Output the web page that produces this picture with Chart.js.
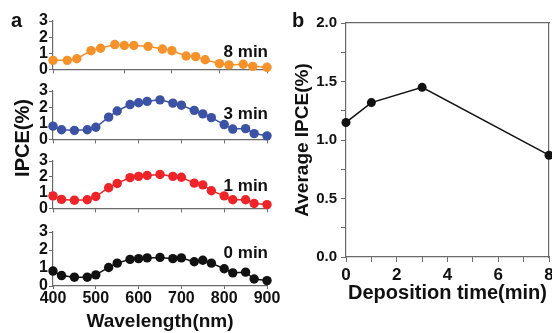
<!DOCTYPE html>
<html><head><meta charset="utf-8">
<script src="https://cdn.jsdelivr.net/npm/chart.js@4/dist/chart.umd.min.js"></script>
<style>
html,body{margin:0;padding:0;background:#fff;width:552px;height:333px;overflow:hidden;position:relative;font-family:'Liberation Sans',Arial,sans-serif;color:#111}
canvas{position:absolute}
.t{position:absolute;white-space:nowrap;font-weight:bold;line-height:1}
</style></head><body>
<canvas id="c8" width="287" height="71" style="left:0;top:9px"></canvas>
<canvas id="c3" width="287" height="71" style="left:0;top:79px"></canvas>
<canvas id="c1" width="287" height="70" style="left:0;top:149px"></canvas>
<canvas id="c0" width="287" height="113" style="left:0;top:220px"></canvas>
<canvas id="cb" width="280" height="333" style="left:280px;top:0"></canvas>
<div class="t" style="left:11px;top:10px;font-size:20px">a</div>
<div class="t" style="left:292px;top:10px;font-size:20px">b</div>
<div class="t" style="left:208px;top:43px;width:60px;text-align:right;font-size:17px">8 min</div>
<div class="t" style="left:208px;top:105px;width:60px;text-align:right;font-size:17px">3 min</div>
<div class="t" style="left:208px;top:177px;width:60px;text-align:right;font-size:17px">1 min</div>
<div class="t" style="left:208px;top:244px;width:60px;text-align:right;font-size:17px">0 min</div>
<div class="t" style="left:22px;top:138px;font-size:20px;transform:translate(-50%,-50%) rotate(-90deg)">IPCE(%)</div>
<script>
// Panel a data
const wavelengths = [400,420,450,480,500,530,550,580,600,620,650,680,700,730,750,770,800,820,850,870,900];
const wavelengths8min = [450,480,500,530,550,580,600,620,650,680,700,730,750,770,800,820,850,870,900];
const ipce8min = [0.56,0.56,0.66,1.16,1.31,1.54,1.48,1.48,1.43,1.26,1.16,0.83,0.79,0.60,0.36,0.28,0.32,0.19,0.13];
const ipce3min = [0.82,0.60,0.56,0.60,0.75,1.38,1.76,2.16,2.27,2.36,2.45,2.25,2.12,1.80,1.58,1.35,0.92,0.64,0.67,0.36,0.22];
const ipce1min = [0.79,0.57,0.52,0.55,0.75,1.31,1.58,1.95,2.03,2.08,2.15,2.03,1.97,1.60,1.49,1.12,0.79,0.55,0.55,0.31,0.24];
const ipce0min = [0.83,0.58,0.49,0.49,0.62,1.03,1.27,1.48,1.52,1.56,1.59,1.52,1.56,1.35,1.43,1.27,0.96,0.73,0.77,0.39,0.30];
const yTicksA = [0,1,2,3];
// Panel b data
const depositionTimes = [0,1,3,8];
const averageIPCE = [1.15,1.32,1.45,0.87];

Chart.defaults.font.family = "'Liberation Sans', Arial, sans-serif";
Chart.defaults.font.weight = 'bold';
Chart.defaults.color = '#111';
const AX = '#6a6a6a';

function sub(id, xs, ys, color, xmin, bottom) {
  new Chart(document.getElementById(id), {
    type: 'line',
    data: { datasets: [{
      data: xs.map((x, i) => ({x, y: ys[i]})),
      borderColor: color, backgroundColor: color, borderWidth: 1.5,
      pointRadius: 4.7, pointBackgroundColor: color, pointBorderWidth: 0,
      clip: false, tension: 0
    }]},
    options: {
      responsive: false, animation: false,
      layout: { padding: { top: 12, right: 20, left: 0, bottom: 0 } },
      plugins: { legend: { display: false }, tooltip: { enabled: false } },
      scales: {
        x: {
          type: 'linear', min: xmin, max: 900,
          ticks: { stepSize: 100, font: { size: 16 }, padding: 0, maxRotation: 0, autoSkip: false,
                   callback: v => bottom ? String(v) : '' },
          grid: { drawOnChartArea: false, tickLength: bottom ? 3 : 4, color: AX },
          border: { color: AX, width: 1.2 },
          title: { display: bottom, text: 'Wavelength(nm)', font: { size: 19 }, padding: { top: 0, bottom: 0 } },
          afterFit: s => { s.height = bottom ? 47 : 5; }
        },
        y: {
          min: 0, max: 3,
          afterBuildTicks: s => { s.ticks = yTicksA.map(v => ({value: v})); },
          ticks: { font: { size: 16 }, padding: 1, autoSkip: false },
          grid: { drawOnChartArea: false, tickLength: 4, color: AX },
          border: { color: AX, width: 1.2 },
          afterFit: s => { s.width = 53; }
        }
      }
    }
  });
}
sub('c8', wavelengths8min, ipce8min, '#F5922A', 450, false);
sub('c3', wavelengths, ipce3min, '#3B52A5', 400, false);
sub('c1', wavelengths, ipce1min, '#EE2428', 400, false);
sub('c0', wavelengths, ipce0min, '#111111', 400, true);

new Chart(document.getElementById('cb'), {
  type: 'line',
  data: { datasets: [{
    data: depositionTimes.map((x, i) => ({x, y: averageIPCE[i]})),
    borderColor: '#111', backgroundColor: '#111', borderWidth: 1.5,
    pointRadius: 4.5, pointBackgroundColor: '#111', pointBorderWidth: 0,
    clip: false, tension: 0
  }]},
  options: {
    responsive: false, animation: false,
    layout: { padding: { top: 23, right: 11, left: 0, bottom: 0 } },
    plugins: { legend: { display: false }, tooltip: { enabled: false } },
    scales: {
      x: {
        type: 'linear', min: 0, max: 8,
        ticks: { stepSize: 1, font: { size: 17 }, padding: 3, maxRotation: 0, autoSkip: false,
                 callback: v => (v % 2 === 0 ? String(v) : '') },
        grid: { drawOnChartArea: false, tickLength: 5, color: AX },
        border: { color: AX, width: 1.2 },
        title: { display: true, text: 'Deposition time(min)', font: { size: 20 }, padding: { top: 0, bottom: 28 } },
        afterFit: s => { s.height = 76; }
      },
      y: {
        min: 0, max: 2,
        ticks: { stepSize: 0.25, font: { size: 15 }, padding: 4, autoSkip: false,
                 callback: v => (Math.abs(v * 2 - Math.round(v * 2)) < 1e-9 ? v.toFixed(1) : '') },
        grid: { drawOnChartArea: false, tickLength: 5, color: AX },
        border: { color: AX, width: 1.2 },
        title: { display: true, text: 'Average IPCE(%)', font: { size: 19 }, padding: { top: 11, bottom: 0 } },
        afterFit: s => { s.width = 66; }
      },
      x2: {
        type: 'linear', position: 'top', axis: 'x', min: 0, max: 8,
        ticks: { display: false }, grid: { display: false },
        border: { display: true, color: AX, width: 1.2 },
        afterFit: s => { s.height = 0; }
      },
      y2: {
        type: 'linear', position: 'right', axis: 'y', min: 0, max: 2,
        ticks: { display: false }, grid: { display: false },
        border: { display: true, color: AX, width: 1.2 },
        afterFit: s => { s.width = 0; }
      }
    }
  }
});
</script>
</body></html>
